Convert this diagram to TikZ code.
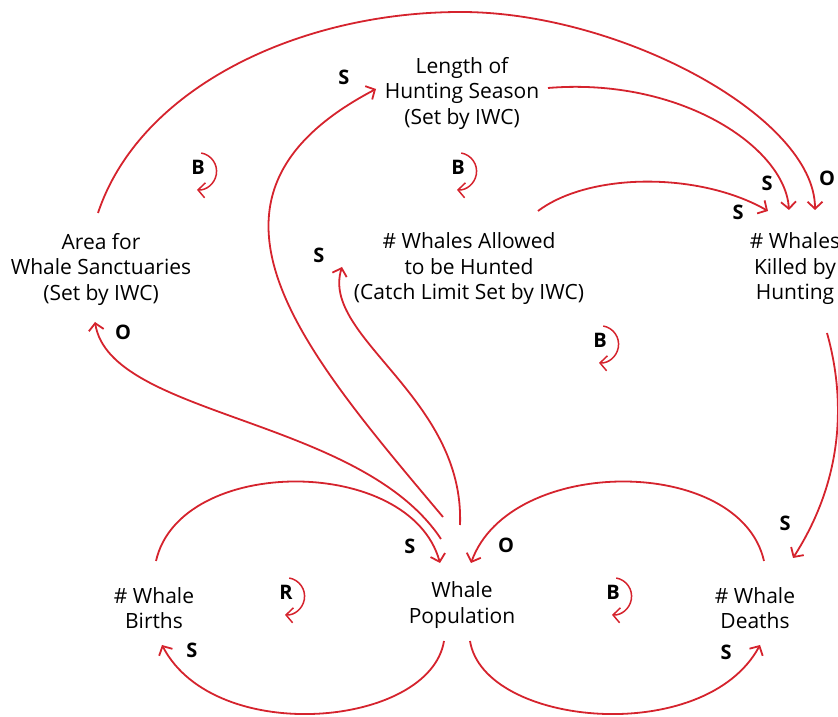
\documentclass[tikz,border=0pt]{standalone}
\usepackage{fontspec}
\setmainfont{Open Sans}
\usetikzlibrary{arrows.meta}
\definecolor{loopred}{RGB}{213,35,45}

\tikzset{
  var/.style={align=center, inner sep=0pt, font=\fontsize{21}{25.5}\selectfont},
  pol/.style={inner sep=0pt, font=\fontsize{20}{22}\selectfont\bfseries},
  link/.style={draw=loopred, line width=1.8pt, ->},
  loopmark/.style={draw=loopred, line width=1.5pt, ->}
}

\begin{document}
\begin{tikzpicture}[x=1pt, y=1pt, >={Straight Barb[length=7pt,width=15pt]}]
\useasboundingbox (0,0) rectangle (838,717);
\node[var] (sanctuary) at (101,448) {Area for\\Whale Sanctuaries\\(Set by IWC)};
\node[var] (season) at (462,624) {Length of\\Hunting Season\\(Set by IWC)};
\node[var] (allowed) at (469,448) {\# Whales Allowed\\to be Hunted\\(Catch Limit Set by IWC)};
\node[var] (killed) at (795,448) {\# Whales\\Killed by\\Hunting};
\node[var] (population) at (462,112) {Whale\\Population};
\node[var] (births) at (154,109) {\# Whale\\Births};
\node[var] (deaths) at (755,109) {\# Whale\\Deaths};
\draw[link] ([shift={(-3,56)}]sanctuary.center) .. controls +(42,126) and (300,705) .. (461,705)
  .. controls (620,705) and +(0,93) .. ([shift={(20,59)}]killed.center);
\draw[link] ([shift={(86,5)}]season.center) .. controls +(132,11) and +(-4,63) .. ([shift={(-6,59)}]killed.center);
\draw[link] ([shift={(69,58)}]allowed.center) .. controls +(52,39) and +(-68,39) .. ([shift={(-27,58)}]killed.center);
\draw[link] ([shift={(32,-64)}]killed.center) .. controls +(18,-64) and +(52,81) .. ([shift={(38,50)}]deaths.center);
\draw[link] ([shift={(9,47)}]deaths.center) .. controls +(-24,106) and +(39,108) .. ([shift={(9,42)}]population.center);
\draw[link] ([shift={(2,47)}]births.center) .. controls +(24,106) and +(-30,108) .. ([shift={(-22,42)}]population.center);
\draw[link] ([shift={(-18,-36)}]population.center) .. controls +(-14,-86) and +(53,-102) .. ([shift={(8,-37)}]births.center);
\draw[link] ([shift={(8,-36)}]population.center) .. controls +(14,-86) and +(-55,-102) .. ([shift={(5,-37)}]deaths.center);
\draw[link] ([shift={(-21,66)}]population.center) .. controls +(-81,122) and +(15,-95) .. ([shift={(-6,-53)}]sanctuary.center);
\draw[link] ([shift={(-19,88)}]population.center) .. controls +(-143,170) and +(-206,-108) .. ([shift={(-86,4)}]season.center);
\draw[link] ([shift={(-2,80)}]population.center) .. controls +(5,128) and +(-22,-70) .. ([shift={(-127,2)}]allowed.center);
\node[pol] (o1) at (827,539) {O};
\node[pol] (s1) at (767,534) {S};
\node[pol] (s2) at (738,505) {S};
\node[pol] (s3) at (344,640) {S};
\node[pol] (s4) at (319,462) {S};
\node[pol] (o2) at (123,385) {O};
\node[pol] (s5) at (785,194) {S};
\node[pol] (s6) at (410,171) {S};
\node[pol] (o3) at (506,172) {O};
\node[pol] (s7) at (192,67) {S};
\node[pol] (s8) at (726,65) {S};
\foreach \name/\kind/\px/\py in {bal1/B/198/550, bal2/B/458/550, bal3/B/600/377, rein/R/286/125, bal4/B/613/125} {
  \node[pol] (\name) at (\px,\py) {\kind};
  \draw[loopmark] ([shift={(3.2,14)}]\name.center) arc[start angle=80, end angle=-93, radius=18.6];
}
\end{tikzpicture}
\end{document}
